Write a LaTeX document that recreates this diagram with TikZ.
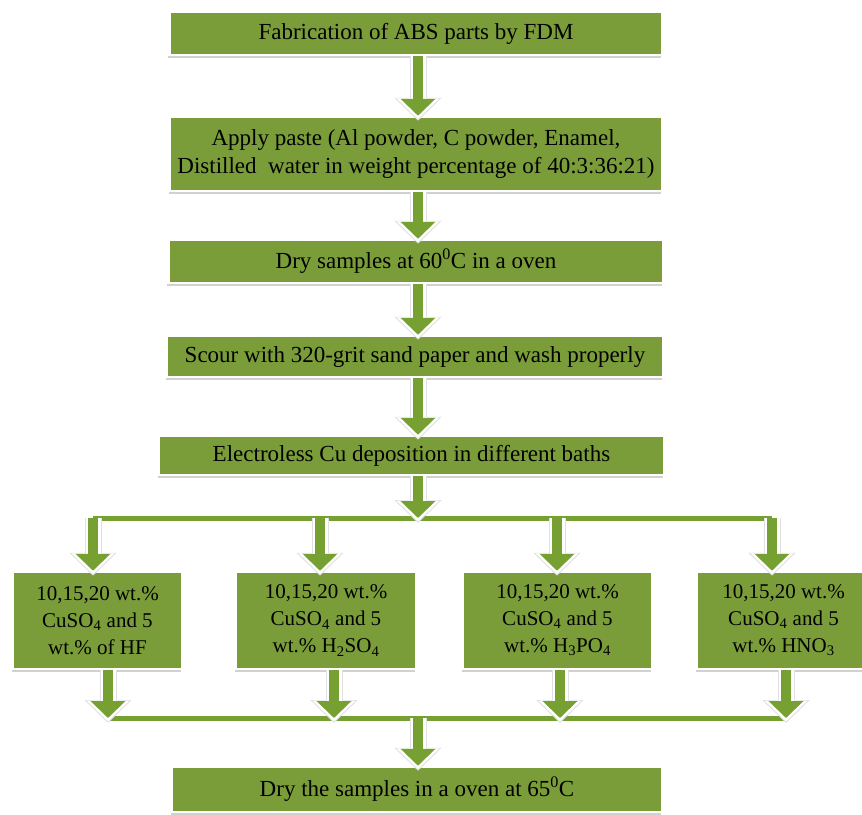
\documentclass[tikz,border=0pt]{standalone}
\usepackage{fontspec}
\setmainfont{Liberation Serif}
\usetikzlibrary{arrows.meta,shadows}
\definecolor{flgreen}{HTML}{7A9D3A}
\definecolor{flarrow}{HTML}{76A132}
\definecolor{flshade}{HTML}{8C8C8C}

\newcommand{\bathtext}[1]{10,15,20 wt.\%\\CuSO\textsubscript{4} and 5\\wt.\% #1}

\begin{document}
\begin{tikzpicture}[x=1pt,y=-1pt,font=\fontsize{23}{28}\selectfont,
  stepbox/.style={fill=flgreen,draw=white,line width=2.5pt,inner sep=0pt,align=center,
    drop shadow={shadow xshift=-1.5pt,shadow yshift=-3pt,opacity=0.4,fill=flshade}},
  bathbox/.style={stepbox,font=\fontsize{21}{27}\selectfont,minimum height=97pt},
  flowarrow/.style={draw=flarrow,line width=10pt,-{Triangle[width=34pt,length=17pt]},
    preaction={draw=black!12,line width=17pt,shorten >=-5pt,-{Triangle[width=46pt,length=23pt]}},
    preaction={draw=white,line width=15pt,shorten >=-3.5pt,-{Triangle[width=42pt,length=21pt]}}},
  flowline/.style={draw=flarrow,line width=5pt,preaction={draw=white,line width=8pt}}]

  \useasboundingbox (0,0) rectangle (862,814);

  \def\lt{518}   % split line y
  \def\lb{718}   % merge line y

  % ---- main steps ----
  \node[stepbox,minimum width=493pt,minimum height=43pt] (fab) at (416,33.5)
        {Fabrication of ABS parts by FDM};
  \node[stepbox,minimum width=492pt,minimum height=74pt] (paste) at (416,154)
        {Apply paste (Al powder, C powder, Enamel,\\
         Distilled\ \ water in weight percentage of 40:3:36:21)};
  \node[stepbox,minimum width=495pt,minimum height=43pt] (dry) at (416,261.5)
        {Dry samples at 60\textsuperscript{0}C in a oven};
  \node[stepbox,minimum width=496pt,minimum height=41pt] (scour) at (415,356.5)
        {Scour with 320-grit sand paper and wash properly};
  \node[stepbox,minimum width=505pt,minimum height=39pt] (depo) at (411.5,455.5)
        {Electroless Cu deposition in different baths};

  % ---- baths ----
  \foreach \n/\x/\w/\acid in {hf/97.5/169/of HF,
      hso/326/180/H\textsubscript{2}SO\textsubscript{4},
      hpo/557.5/189/H\textsubscript{3}PO\textsubscript{4},
      hno/783.5/173/HNO\textsubscript{3}}
    \node[bathbox,minimum width=\w pt] (\n) at (\x,620.5) {\bathtext{\acid}};

  % ---- last step ----
  \node[stepbox,minimum width=490pt,minimum height=45pt] (final) at (417,789.5)
        {Dry the samples in a oven at 65\textsuperscript{0}C};

  % ---- split and merge lines ----
  \coordinate (axis) at (418,0);
  \coordinate (split) at (418,\lt);
  \coordinate (join) at (418,\lb);
  \coordinate (sa) at (93,\lt);
  \coordinate (sb) at (320,\lt);
  \coordinate (sc) at (557,\lt);
  \coordinate (sd) at (772,\lt);
  \coordinate (ma) at (108,\lb);
  \coordinate (mb) at (334,\lb);
  \coordinate (mc) at (560,\lb);
  \coordinate (md) at (786,\lb);
  \draw[flowline] (sa) -- (sd);
  \draw[flowline] (ma) -- (md);

  % ---- arrows ----
  \foreach \a/\b in {fab/paste, paste/dry, dry/scour, scour/depo}
    \draw[flowarrow] (\a.south -| axis) -- (\b.north -| axis);
  \draw[flowarrow] (depo.south -| axis) -- (split);
  \foreach \s/\n in {sa/hf, sb/hso, sc/hpo, sd/hno}
    \draw[flowarrow] (\s) -- (\n.north -| \s);
  \foreach \n/\m in {hf/ma, hso/mb, hpo/mc, hno/md}
    \draw[flowarrow] (\n.south -| \m) -- (\m);
  \draw[flowarrow] (join) -- (final.north -| axis);

\end{tikzpicture}
\end{document}
